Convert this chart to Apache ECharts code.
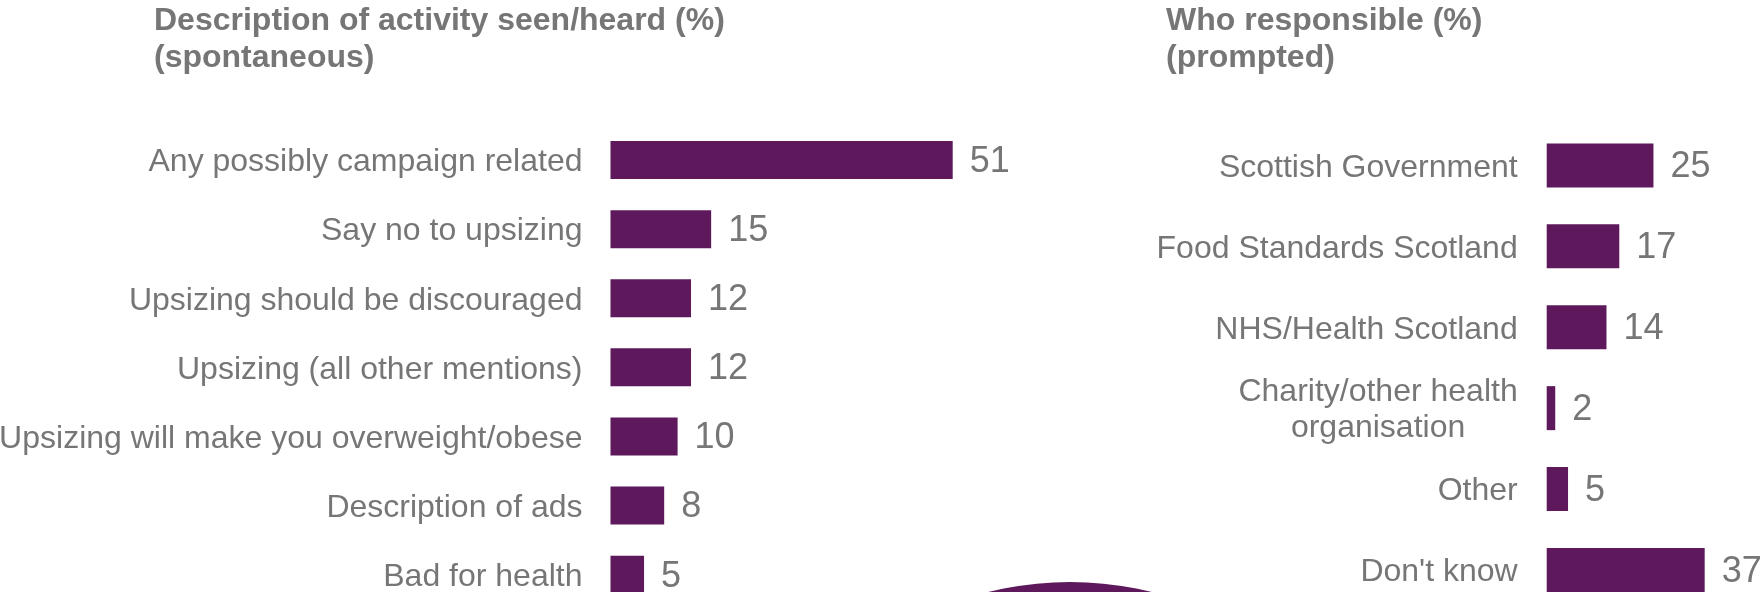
<!DOCTYPE html>
<html>
<head>
<meta charset="utf-8">
<script src="https://cdn.jsdelivr.net/npm/echarts@6/dist/echarts.min.js"></script>
<style>
  html, body { margin: 0; padding: 0; background: #ffffff; overflow: hidden; }
  #chart { width: 1760px; height: 592px; }
</style>
</head>
<body>
<div id="chart"></div>
<script>
// Left panel: description of activity seen/heard (spontaneous), %
const activityCategories = [
  'Any possibly campaign related',
  'Say no to upsizing',
  'Upsizing should be discouraged',
  'Upsizing (all other mentions)',
  'Upsizing will make you overweight/obese',
  'Description of ads',
  'Bad for health'
];
const activityValues = [51, 15, 12, 12, 10, 8, 5];

// Right panel: who is responsible (prompted), %
const responsibleCategories = [
  'Scottish Government',
  'Food Standards Scotland',
  'NHS/Health Scotland',
  'Charity/other health\norganisation',
  'Other',
  "Don't know"
];
const responsibleValues = [25, 17, 14, 2, 5, 37];

const panelTitles = [
  'Description of activity seen/heard (%)\n(spontaneous)',
  'Who responsible (%)\n(prompted)'
];

const PURPLE = '#5d195b';
const GREY = '#767676';
const FONT = '"Liberation Sans", Arial, sans-serif';
const CAT_SIZE = 32;
const VAL_SIZE = 36;

// width of the widest line of a wrapped label, so its lines can be centred on each other
function lineWidth(text) {
  const ctx = document.createElement('canvas').getContext('2d');
  ctx.font = CAT_SIZE + 'px ' + FONT;
  return Math.max(...text.split('\n').map(s => ctx.measureText(s).width));
}

function categoryLabel(margin) {
  return {
    margin: margin,
    padding: [5, 0, 0, 0],
    color: GREY,
    fontFamily: FONT,
    fontSize: CAT_SIZE,
    lineHeight: 36,
    formatter: function (v) {
      if (v.indexOf('\n') < 0) return v;
      return v.split('\n').map(s => '{c|' + s + '}').join('\n');
    },
    rich: {
      c: {
        width: lineWidth(responsibleCategories.find(c => c.indexOf('\n') >= 0)),
        align: 'center',
        color: GREY,
        fontFamily: FONT,
        fontSize: CAT_SIZE,
        lineHeight: 36
      }
    }
  };
}

function valueLabel() {
  return {
    show: true,
    position: 'right',
    distance: 17,
    offset: [0, 2],
    color: GREY,
    fontFamily: FONT,
    fontSize: VAL_SIZE
  };
}

const titleStyle = { color: GREY, fontFamily: FONT, fontSize: 32, fontWeight: 'bold', lineHeight: 37 };

const chart = echarts.init(document.getElementById('chart'), null, { renderer: 'canvas' });

chart.setOption({
  animation: false,
  backgroundColor: '#ffffff',
  title: [
    { text: panelTitles[0], left: 154, top: 2.5, padding: 0, textStyle: titleStyle },
    { text: panelTitles[1], left: 1166, top: 2.5, padding: 0, textStyle: titleStyle }
  ],
  grid: [
    { left: 610.5, top: 125.5, width: 402.6, height: 483.7, outerBoundsMode: 'none', containLabel: false },
    { left: 1546.7, top: 125, width: 170.8, height: 485.4, outerBoundsMode: 'none', containLabel: false }
  ],
  xAxis: [
    { type: 'value', gridIndex: 0, min: 0, max: 60, show: false },
    { type: 'value', gridIndex: 1, min: 0, max: 40, show: false }
  ],
  yAxis: [
    {
      type: 'category', gridIndex: 0, inverse: true, data: activityCategories,
      axisLine: { show: false }, axisTick: { show: false }, splitLine: { show: false },
      axisLabel: categoryLabel(28)
    },
    {
      type: 'category', gridIndex: 1, inverse: true, data: responsibleCategories,
      axisLine: { show: false }, axisTick: { show: false }, splitLine: { show: false },
      axisLabel: categoryLabel(29)
    }
  ],
  series: [
    {
      type: 'bar', xAxisIndex: 0, yAxisIndex: 0, data: activityValues,
      barWidth: 38, itemStyle: { color: PURPLE }, label: valueLabel(), silent: true
    },
    {
      type: 'bar', xAxisIndex: 1, yAxisIndex: 1, data: responsibleValues,
      barWidth: 44, itemStyle: { color: PURPLE }, label: valueLabel(), silent: true
    }
  ],
  graphic: [
    {
      // decorative disc rising from the bottom edge
      type: 'circle', silent: true, z: -1,
      shape: { cx: 1070, cy: 922, r: 340 },
      style: { fill: PURPLE }
    }
  ]
});
</script>
</body>
</html>
